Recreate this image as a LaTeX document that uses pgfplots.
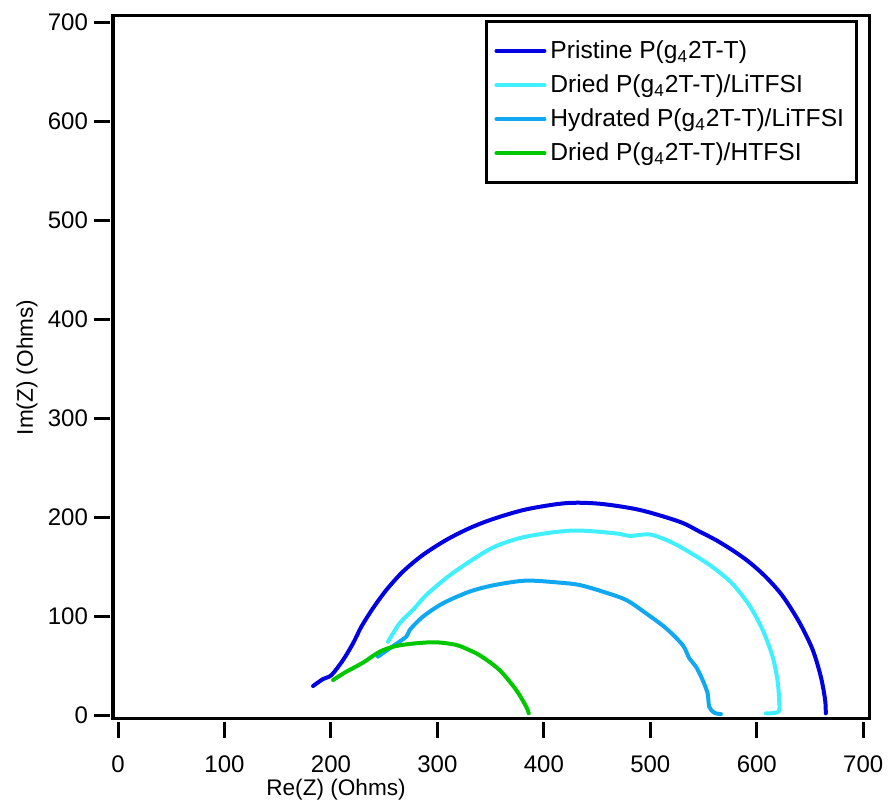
\documentclass[border=0pt]{standalone}
\usepackage{fontspec}
\setmainfont{Liberation Sans}
\usepackage{pgfplots}
\pgfplotsset{compat=1.18}

\definecolor{pristine}{RGB}{0,0,225}
\definecolor{driedli}{RGB}{64,240,255}
\definecolor{hydrli}{RGB}{16,168,240}
\definecolor{driedh}{RGB}{0,200,0}

\begin{document}
\begin{tikzpicture}[font=\fontsize{11.3}{13}\selectfont]
\useasboundingbox (-56.5pt,-41pt) rectangle (388pt,359.5pt);
\begin{axis}[
  scale only axis,
  width=378pt, height=351.5pt,
  xmin=-4.7, xmax=705.4,
  ymin=-4, ymax=706.3,
  xtick={0,100,...,700},
  ytick={0,100,...,700},
  xticklabels={0,100,200,300,400,500,600,700},
  yticklabels={0,100,200,300,400,500,600,700},
  tick pos=left,
  tick align=outside,
  major tick length=8pt,
  axis line style={line width=1.5pt},
  every tick/.style={line width=1.5pt, black},
  xtick style={yshift=-1.5pt},
  ytick style={xshift=-1.5pt},
  xticklabel style={font=\fontsize{12}{14}\selectfont, yshift=-7pt},
  yticklabel style={font=\fontsize{12}{14}\selectfont, xshift=-1pt},
  xlabel={Re(Z) (Ohms)},
  ylabel={Im(Z) (Ohms)},
  every axis x label/.style={at={(rel axis cs:0.295,0)}, anchor=base, yshift=-38.5pt},
  every axis y label/.style={at={(rel axis cs:0,0.5)}, xshift=-40pt, rotate=90, anchor=base},
  legend cell align=left,
  legend style={
    at={(rel axis cs:0.492,0.994)}, anchor=north west,
    line width=1.5pt, draw=black,
    font=\fontsize{12.3}{14}\selectfont,
    inner xsep=4pt, inner ysep=7.5pt,
    row sep=2.6pt,
  },
  legend image code/.code={\draw[#1, line width=2pt] (0pt,0pt) -- (24pt,0pt);},
  every axis plot/.append style={line width=2pt, line join=round, line cap=round, smooth, tension=0.5},
]
% Pristine film
\addplot[pristine] coordinates {
(183.2,29.3) (192.6,36.4) (200.5,40.4) (211.4,55.6) (220.8,72.5) (228.6,89.3)
(239.5,107.9) (252.1,126.4) (267.6,144.9) (286.4,161.8) (308.3,176.9) (330.2,188.8)
(352.1,198.0) (383.4,207.8) (420.9,214.1) (452.2,213.5) (489.7,207.3) (527.2,195.4)
(546.0,185.5) (561.6,176.8) (577.2,166.5) (592.9,154.5) (608.5,139.5) (624.1,120.5)
(639.8,94.0) (652.3,66.5) (660.1,39.0) (664.2,15.2) (664.8,1.7)
};
\addlegendentry{Pristine P(g\textsubscript{4}2T-T)}
% Dried with LiTFSI
\addplot[driedli] coordinates {
(253.6,74.1) (264.5,92.7) (277.0,106.2) (289.6,121.3) (309.5,139.5) (330.2,155.0)
(354.0,170.2) (383.4,180.3) (427.1,186.4) (467.8,183.5) (480.3,181.0) (499.1,182.5)
(514.7,177.0) (527.2,170.5) (546.0,158.5) (561.6,147.0) (577.2,132.5) (592.9,111.0)
(605.3,86.5) (614.7,59.5) (619.4,35.4) (621.0,15.2) (620.4,3.3) (608.5,1.7)
};
\addlegendentry{Dried P(g\textsubscript{4}2T-T)/LiTFSI}
% Hydrated with LiTFSI
\addplot[hydrli] coordinates {
(244.2,59.0) (255.2,67.4) (270.8,79.2) (273.9,85.9) (286.4,99.4) (305.2,112.9)
(330.2,124.7) (354.0,131.4) (383.4,135.8) (414.6,133.8) (433.4,131.4) (455.3,124.7)
(477.2,116.3) (495.9,102.8) (514.7,87.7) (530.3,70.8) (536.6,57.3) (542.9,48.8)
(549.1,35.4) (553.8,21.9) (555.3,8.4) (560.0,2.3) (566.3,1.0)
};
\addlegendentry{Hydrated P(g\textsubscript{4}2T-T)/LiTFSI}
% Dried with HTFSI
\addplot[driedh] coordinates {
(202.0,35.4) (214.5,43.8) (230.1,52.9) (245.8,64.0) (261.4,69.8) (280.2,72.5)
(298.9,73.5) (317.7,70.8) (330.2,65.5) (341.0,59.5) (358.3,45.5) (374.0,25.3)
(383.4,8.4) (385.8,1.7)
};
\addlegendentry{Dried P(g\textsubscript{4}2T-T)/HTFSI}
\end{axis}
\end{tikzpicture}
\end{document}
